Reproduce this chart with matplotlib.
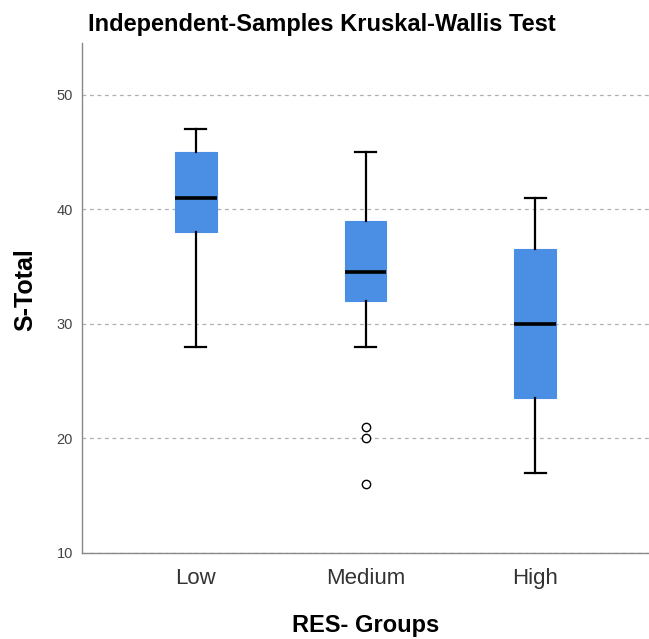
import matplotlib.pyplot as plt

plt.rcParams['font.family'] = ['Liberation Sans', 'DejaVu Sans']

groups = ['Low', 'Medium', 'High']
whislo = [28, 28, 17]
q1 = [38, 32, 23.5]
med = [41, 34.5, 30]
q3 = [45, 39, 36.5]
whishi = [47, 45, 41]
fliers = [[], [21, 20, 16], []]

stats = []
for i, g in enumerate(groups):
    stats.append({'label': g, 'whislo': whislo[i], 'q1': q1[i], 'med': med[i],
                  'q3': q3[i], 'whishi': whishi[i], 'fliers': fliers[i]})

W, H = 649, 639
fig = plt.figure(figsize=(W / 100, H / 100), dpi=100)
ax = fig.add_axes([82 / W, 1 - 553 / H, 1 - 82 / W, (553 - 43) / H])

ax.bxp(stats, positions=[1, 2, 3], widths=0.245, patch_artist=True,
       boxprops=dict(facecolor='#4a8fe3', edgecolor='#4a8fe3', linewidth=0.8),
       medianprops=dict(color='black', linewidth=2.6),
       whiskerprops=dict(color='black', linewidth=1.6),
       capprops=dict(color='black', linewidth=1.6),
       capwidths=0.125,
       flierprops=dict(marker='o', markerfacecolor='white', markeredgecolor='black',
                       markersize=6, markeredgewidth=1.0))

ax.set_xlim(0.33, 3.67)
ax.set_ylim(10, 54.5)
ax.set_yticks([10, 20, 30, 40, 50])
ax.yaxis.grid(True, linestyle=(0, (3, 3)), color='#b0b0b0', linewidth=0.9)
ax.set_axisbelow(True)

for s in ['top', 'right']:
    ax.spines[s].set_visible(False)
for s in ['left', 'bottom']:
    ax.spines[s].set_color('#888888')
    ax.spines[s].set_linewidth(1.0)

ax.tick_params(axis='both', length=0)
ax.tick_params(axis='y', labelsize=10.5, labelcolor='#444444', pad=6.5)
ax.tick_params(axis='x', labelsize=16, labelcolor='#333333', pad=11)

ax.set_xlabel('RES- Groups', fontsize=17, fontweight='bold', va='baseline')
ax.xaxis.set_label_coords(366 / W, 1 - 632 / H, transform=fig.transFigure)
ax.set_ylabel('S-Total', fontsize=18, fontweight='bold', va='baseline')
ax.yaxis.set_label_coords(32 / W, 1 - 290 / H, transform=fig.transFigure)

fig.text(88 / W, 1 - 31 / H, 'Independent-Samples Kruskal-Wallis Test',
         fontsize=17, fontweight='bold', va='baseline', ha='left')

fig.savefig('out.png', dpi=100)
